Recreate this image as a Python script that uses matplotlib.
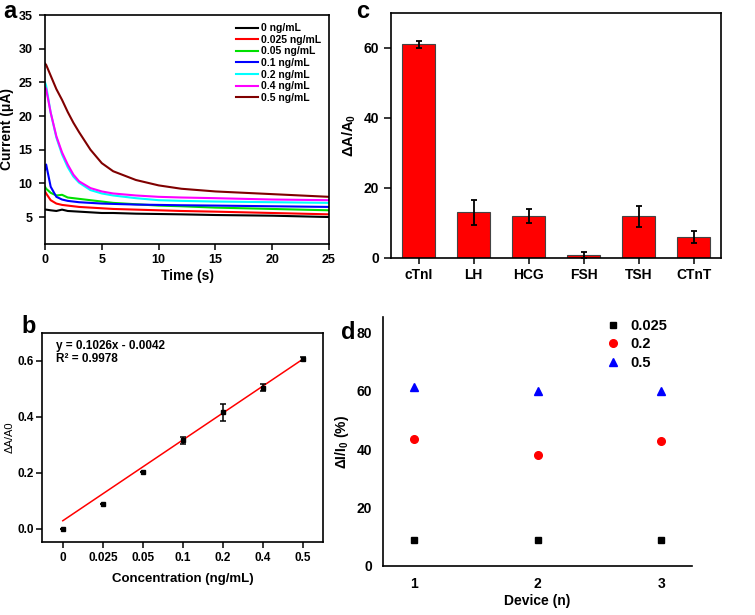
import matplotlib
matplotlib.use('Agg')
import matplotlib.pyplot as plt
import numpy as np

plt.rcParams.update({
    'font.family': ['Liberation Sans', 'DejaVu Sans'],
    'font.weight': 'bold',
    'axes.labelweight': 'bold',
    'font.size': 9.5,
    'axes.linewidth': 1.2,
    'xtick.major.width': 1.1, 'ytick.major.width': 1.1,
    'xtick.major.size': 4, 'ytick.major.size': 4,
    'mathtext.fontset': 'custom',
    'mathtext.rm': 'Liberation Sans:bold',
    'mathtext.it': 'Liberation Sans:bold',
    'mathtext.bf': 'Liberation Sans:bold',
    'mathtext.default': 'rm',
})

# ---- panel a: current vs time ----
time_s = [0, 0.1, 0.5, 1, 1.5, 2, 2.5, 3, 4, 5, 6, 8, 10, 12, 15, 20, 25]
conc_labels = ['0 ng/mL', '0.025 ng/mL', '0.05 ng/mL', '0.1 ng/mL',
               '0.2 ng/mL', '0.4 ng/mL', '0.5 ng/mL']
cur_0 = [6.1, 6.1, 6.0, 5.9, 6.1, 5.9, 5.85, 5.8, 5.7, 5.6, 5.6, 5.5, 5.45, 5.4, 5.3, 5.2, 5.0]
cur_0025 = [8.8, 8.5, 7.5, 7.0, 6.8, 6.7, 6.6, 6.5, 6.4, 6.3, 6.2, 6.1, 6.0, 5.9, 5.8, 5.6, 5.4]
cur_005 = [9.5, 9.2, 8.6, 8.2, 8.3, 7.9, 7.8, 7.7, 7.5, 7.3, 7.1, 6.9, 6.7, 6.6, 6.4, 6.2, 6.0]
cur_01 = [12.0, 12.8, 9.5, 8.0, 7.6, 7.4, 7.3, 7.2, 7.1, 7.0, 6.95, 6.85, 6.8, 6.75, 6.7, 6.6, 6.5]
cur_02 = [25.0, 24.5, 20.5, 16.8, 14.3, 12.4, 11.0, 10.1, 9.0, 8.5, 8.2, 7.8, 7.5, 7.4, 7.3, 7.2, 7.1]
cur_04 = [24.3, 24.0, 20.5, 17.0, 14.6, 12.8, 11.3, 10.3, 9.3, 8.8, 8.5, 8.2, 8.0, 7.9, 7.8, 7.6, 7.5]
cur_05 = [27.8, 27.6, 26.0, 24.0, 22.4, 20.6, 19.0, 17.6, 15.0, 13.0, 11.8, 10.5, 9.7, 9.2, 8.8, 8.4, 8.0]
curves = [cur_0, cur_0025, cur_005, cur_01, cur_02, cur_04, cur_05]
curve_colors = ['black', '#FF0000', '#00E000', '#0000FF', '#00FFFF', '#FF00FF', '#800000']

# ---- panel b: calibration ----
cal_labels = ['0', '0.025', '0.05', '0.1', '0.2', '0.4', '0.5']
cal_vals = [0.0, 0.088, 0.201, 0.316, 0.416, 0.503, 0.606]
cal_err = [0.0, 0.0, 0.0, 0.012, 0.03, 0.012, 0.007]
fit_intercept = 0.028
fit_slope = 0.0963

# ---- panel c: selectivity ----
sel_labels = ['cTnI', 'LH', 'HCG', 'FSH', 'TSH', 'CTnT']
sel_vals = [61.0, 13.0, 11.9, 0.9, 11.9, 5.9]
sel_err = [1.0, 3.5, 2.0, 0.8, 3.0, 1.7]

# ---- panel d: reproducibility ----
devices = [1, 2, 3]
rep_0025 = [8.8, 8.8, 8.8]
rep_02 = [43.5, 38.0, 42.8]
rep_05 = [61.4, 60.0, 60.0]

fig = plt.figure(figsize=(7.55, 6.15), dpi=100)

# a
ax = fig.add_axes([0.0596, 0.6033, 0.3762, 0.3723])
for y, c, lab in zip(curves, curve_colors, conc_labels):
    ax.plot(time_s, y, color=c, lw=1.5, label=lab)
ax.set_xlim(0, 25)
ax.set_ylim(1, 35)
ax.set_xticks([0, 5, 10, 15, 20, 25])
ax.set_yticks([5, 10, 15, 20, 25, 30, 35])
ax.set_xlabel('Time (s)', fontsize=10, labelpad=2)
ax.set_ylabel('Current (μA)', fontsize=10, labelpad=3)
ax.tick_params(direction='out', labelsize=9)
ax.tick_params(axis='y', pad=5)
ax.legend(loc='upper right', frameon=False, fontsize=7.5, handlelength=2.2,
          handletextpad=0.2, labelspacing=0.15, borderaxespad=0.4)
fig.text(0.004, 1.0, 'a', fontsize=17, fontweight='bold', va='top')

# b
ax = fig.add_axes([0.0556, 0.1187, 0.3722, 0.3403])
xi = np.arange(len(cal_labels))
ax.errorbar(xi, cal_vals, yerr=cal_err, fmt='s', color='black', ms=3.5,
            capsize=2.5, elinewidth=1.1, capthick=1.1, zorder=3)
ax.plot(xi[[0, -1]], fit_intercept + fit_slope * xi[[0, -1]], color='#FF0000', lw=1.1)
ax.set_xlim(-0.52, 6.5)
ax.set_ylim(-0.048, 0.70)
ax.set_xticks(xi)
ax.set_xticklabels(cal_labels)
ax.set_yticks([0.0, 0.2, 0.4, 0.6])
ax.tick_params(direction='out', labelsize=8.5)
ax.tick_params(axis='y', pad=2)
ax.set_xlabel('Concentration (ng/mL)', fontsize=9.5, labelpad=6)
ax.set_ylabel('ΔA/A0', fontsize=8, fontweight='normal', labelpad=2)
ax.text(0.05, 0.965, 'y = 0.1026x - 0.0042\nR² = 0.9978', transform=ax.transAxes,
        fontsize=8.5, fontweight='bold', va='top', linespacing=1.15)
fig.text(0.028, 0.488, 'b', fontsize=17, fontweight='bold', va='top')

# c
ax = fig.add_axes([0.5179, 0.5805, 0.4371, 0.3984])
xc = np.arange(len(sel_labels))
ax.bar(xc, sel_vals, width=0.6, color='#FF0000', edgecolor='#444444', lw=0.8,
       yerr=sel_err, capsize=2.5, error_kw=dict(elinewidth=1.3, capthick=1.3))
ax.set_xlim(-0.5, 5.5)
ax.set_ylim(0, 70)
ax.set_xticks(xc)
ax.set_xticklabels(sel_labels)
ax.set_yticks([0, 20, 40, 60])
ax.tick_params(direction='out', labelsize=10)
ax.tick_params(axis='y', length=5)
ax.set_ylabel('ΔA/A$_0$', fontsize=10.5, labelpad=4)
fig.text(0.472, 1.0, 'c', fontsize=17, fontweight='bold', va='top')

# d
ax = fig.add_axes([0.5073, 0.0797, 0.4093, 0.4049])
ax.plot(devices, rep_0025, 's', color='black', ms=5, label='0.025')
ax.plot(devices, rep_02, 'o', color='#FF0000', ms=5.5, label='0.2')
ax.plot(devices, rep_05, '^', color='#0000FF', ms=6, label='0.5')
ax.set_xlim(0.75, 3.25)
ax.set_ylim(0, 85.3)
ax.set_xticks(devices)
ax.set_yticks([0, 20, 40, 60, 80])
ax.spines['top'].set_visible(False)
ax.spines['right'].set_visible(False)
ax.tick_params(length=0, labelsize=10, pad=8)
ax.set_xlabel('Device (n)', fontsize=10, labelpad=2)
ax.set_ylabel('ΔI/I$_0$ (%)', fontsize=10, labelpad=4)
ax.legend(loc='upper right', bbox_to_anchor=(0.94, 1.015), frameon=False, fontsize=10.5,
          handletextpad=0.2, labelspacing=0.3, borderaxespad=0.0)
fig.text(0.452, 0.478, 'd', fontsize=17, fontweight='bold', va='top')

fig.savefig('out.png', dpi=100, facecolor='white')
